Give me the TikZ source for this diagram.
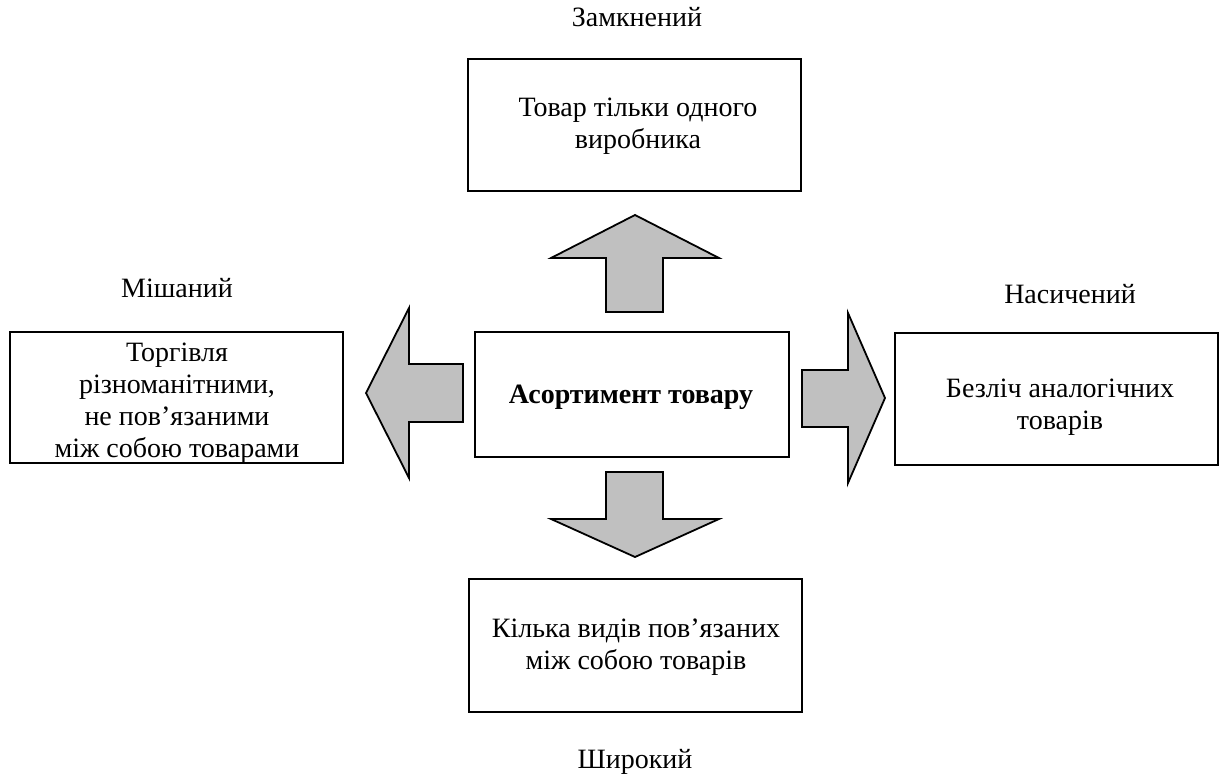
\documentclass[tikz,border=0pt]{standalone}
\usepackage{fontspec}
\setmainfont{Liberation Serif}
\definecolor{arrowgray}{RGB}{192,192,192}
\begin{document}
\begin{tikzpicture}[x=0.5pt,y=-0.5pt,
  box/.style={draw, line width=0.9pt, inner sep=0pt, outer sep=0pt},
  txt/.style={align=center, font=\fontsize{14pt}{16pt}\selectfont, inner sep=0pt},
  blockarrow/.style={draw, line width=0.9pt, fill=arrowgray, line join=miter}]
\useasboundingbox (0,0) rectangle (1225,775);

% frames
\node[box, minimum width=166.5pt, minimum height=66pt]   (topbox)    at (634.5,125)   {};
\node[box, minimum width=157pt,   minimum height=62.5pt] (centerbox) at (632,394.5)   {};
\node[box, minimum width=166.5pt, minimum height=65.5pt] (leftbox)   at (176.5,397.5) {};
\node[box, minimum width=161.5pt, minimum height=66pt]   (rightbox)  at (1056.5,399)  {};
\node[box, minimum width=166.5pt, minimum height=66.5pt] (bottombox) at (635.5,645.5) {};

% texts inside the frames
\node[txt] (toptext) at (638,126.5) {Товар тільки одного\\виробника};
\node[txt, font=\fontsize{14pt}{16pt}\selectfont\bfseries, anchor=base] (centertext) at (631,403) {Асортимент товару};
\node[txt] (lefttext) at (177,403) {Торгівля\\різноманітними,\\не пов’язаними\\між собою товарами};
\node[txt] (righttext) at (1060,407) {Безліч аналогічних\\товарів};
\node[txt] (bottomtext) at (636,647) {Кілька видів пов’язаних\\між собою товарів};

% captions
\node[txt, anchor=base] (closed)    at (637,27)   {Замкнений};
\node[txt, anchor=base] (mixed)     at (177,297)  {Мішаний};
\node[txt, anchor=base] (saturated) at (1070,303) {Насичений};
\node[txt, anchor=base] (wide)      at (635,768)  {Широкий};

% block arrows
\draw[blockarrow] (606,312) -- (606,258) -- (551,258) -- (635,215) -- (719,258) -- (663,258) -- (663,312) -- cycle;
\draw[blockarrow] (606,472) -- (606,519) -- (551,519) -- (635,557) -- (719,519) -- (663,519) -- (663,472) -- cycle;
\draw[blockarrow] (463,364) -- (409,364) -- (409,308) -- (366,393) -- (409,478) -- (409,422) -- (463,422) -- cycle;
\draw[blockarrow] (802,370) -- (848,370) -- (848,313) -- (885,398) -- (848,483) -- (848,427) -- (802,427) -- cycle;
\end{tikzpicture}
\end{document}
